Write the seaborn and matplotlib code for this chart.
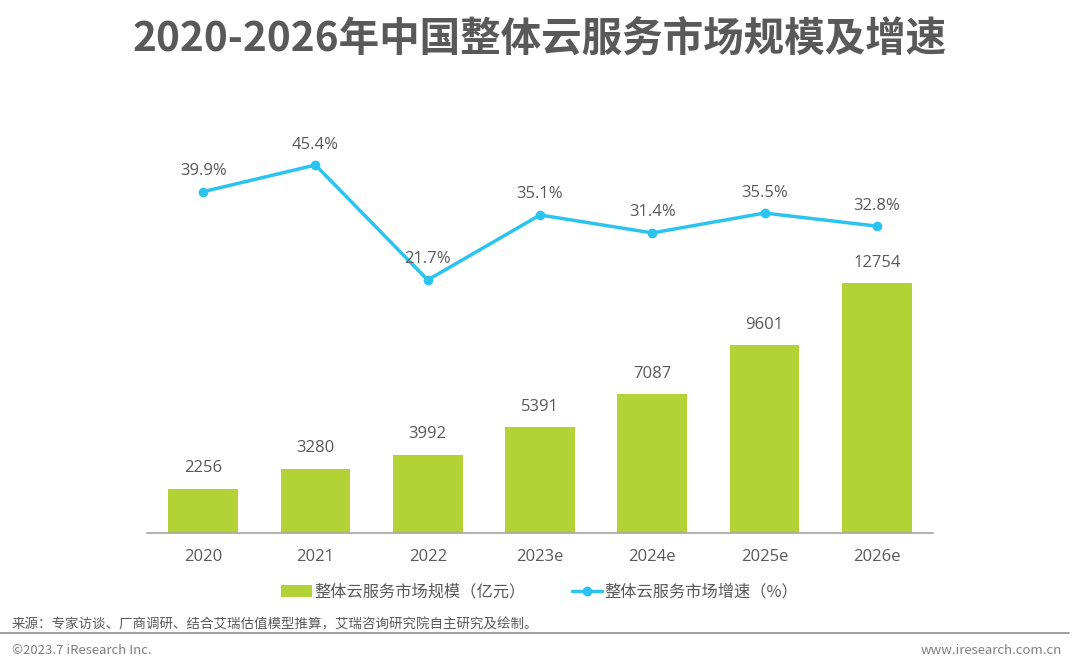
import numpy as np
import pandas as pd
import matplotlib
matplotlib.use("Agg")
import matplotlib.pyplot as plt
from matplotlib.lines import Line2D
from matplotlib.patches import Patch
import seaborn as sns

years = ["2020", "2021", "2022", "2023e", "2024e", "2025e", "2026e"]
market_size = [2256, 3280, 3992, 5391, 7087, 9601, 12754]
growth = [39.9, 45.4, 21.7, 35.1, 31.4, 35.5, 32.8]

title = "2020-2026年中国整体云服务市场规模及增速"
bar_label = "整体云服务市场规模（亿元）"
line_label = "整体云服务市场增速（%）"
source = "来源：专家访谈、厂商调研、结合艾瑞估值模型推算，艾瑞咨询研究院自主研究及绘制。"
copyright_txt = "©2023.7 iResearch Inc."
site = "www.iresearch.com.cn"

sns.set_theme(style="white")
plt.rcParams['font.family'] = ['Noto Sans CJK SC', 'DejaVu Sans']
NUMFONT = ['Open Sans', 'Noto Sans CJK SC', 'DejaVu Sans']

GREEN = "#B2D235"
CYAN = "#2BC4EE"
TXT = "#595959"

fig = plt.figure(figsize=(10.8, 6.65), dpi=100)
ax = fig.add_axes([147/1080, 132.3/665, 786/1080, 412.7/665])

df = pd.DataFrame({"year": years, "size": market_size, "growth": growth})
sns.barplot(data=df, x="year", y="size", color=GREEN, width=0.62, ax=ax,
            saturation=1, edgecolor="none")
ax.set_xlim(-0.5, 6.5)
ax.set_ylim(0, 21110)
ax.set_xlabel("")
ax.set_ylabel("")
ax.set_yticks([])
for s in ["top", "right", "left"]:
    ax.spines[s].set_visible(False)
ax.spines["bottom"].set_color("#A6A6A6")
ax.spines["bottom"].set_linewidth(1.2)
ax.tick_params(axis="x", length=0, pad=12, labelsize=12, labelcolor=TXT)
for lab in ax.get_xticklabels():
    lab.set_family(NUMFONT)

for i, v in enumerate(market_size):
    ax.annotate(f"{v}", (i, v), xytext=(0, 9), textcoords="offset points",
                ha="center", va="bottom", fontsize=12, color=TXT, family=NUMFONT)

ax2 = ax.twinx()
sns.lineplot(x=np.arange(len(growth)), y=growth, ax=ax2, color=CYAN,
             linewidth=2.5, marker="o", markersize=7, markeredgewidth=0)
ax2.set_ylim(-30.4, 54.68)
ax2.set_yticks([])
ax2.set_xlim(-0.5, 6.5)
for s in ["top", "right", "left", "bottom"]:
    ax2.spines[s].set_visible(False)
for i, v in enumerate(growth):
    ax2.annotate(f"{v}%", (i, v), xytext=(0, 9), textcoords="offset points",
                 ha="center", va="bottom", fontsize=12, color=TXT, family=NUMFONT)

fig.text(0.5, 1 - 40/665, title, ha="center", va="center", fontsize=29.2,
         fontweight="bold", color=TXT)

handles = [Patch(facecolor=GREEN, edgecolor="none"),
           Line2D([0], [0], color=CYAN, lw=2.5, marker="o", markersize=6)]
fig.legend(handles, [bar_label, line_label], loc="center",
           bbox_to_anchor=(0.5, 1 - 592/665), ncol=2, frameon=False,
           fontsize=11.7, labelcolor=TXT, handlelength=1.9, handletextpad=0.15,
           columnspacing=2.8)

fig.text(12/1080, 1 - 624/665, source, ha="left", va="center", fontsize=9.7,
         color=TXT)
fig.add_artist(Line2D([0, 1069/1080], [1 - 633/665, 1 - 633/665],
                      color="#8C8C8C", lw=1.2, transform=fig.transFigure))
fig.text(12/1080, 1 - 650/665, copyright_txt, ha="left", va="center",
         fontsize=9.5, color="#7F7F7F")
fig.text(1062/1080, 1 - 650/665, site, ha="right", va="center",
         fontsize=9.5, color="#7F7F7F")

fig.savefig("out.png", dpi=100)
